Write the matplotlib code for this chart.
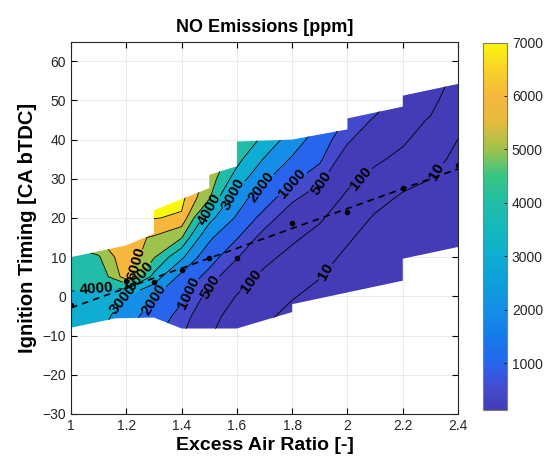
import numpy as np
import matplotlib
matplotlib.use("Agg")
import matplotlib.pyplot as plt
from matplotlib.colors import LinearSegmentedColormap, Normalize
from matplotlib.cm import ScalarMappable
from matplotlib.patches import Polygon

plt.rcParams['font.family'] = ['Liberation Sans', 'DejaVu Sans']

# measurement grid: excess air ratio (columns) x ignition timing (rows)
lam = [1.0, 1.1, 1.2, 1.3, 1.4, 1.5, 1.6, 1.7, 1.8, 1.9, 2.0, 2.1, 2.2, 2.3, 2.4]
ign = [-10, -5, 0, 5, 10, 15, 20, 25, 30, 35, 40, 45, 50, 55]

# NO [ppm], one list per lambda column, bottom to top
no_ppm = [
    [3200, 3500, 3900, 4300, 4800, 5200, 5500, 5800, 6000, 6200, 6400, 6600, 6800, 7000],
    [3100, 3450, 3800, 4300, 4900, 6000, 6300, 6500, 6700, 6800, 6900, 7000, 7000, 7000],
    [2130, 2510, 2950, 6600, 6950, 6300, 6500, 6700, 6900, 7000, 7000, 7000, 7000, 7000],
    [1180, 1560, 2100, 3720, 5090, 5900, 7050, 7400, 7600, 7700, 7800, 7800, 7800, 7800],
    [540, 785, 1160, 1760, 3240, 5070, 6850, 7300, 7500, 7600, 7700, 7700, 7700, 7700],
    [125, 217, 379, 771, 1415, 2230, 3370, 5100, 5650, 6100, 6400, 6600, 6800, 7000],
    [16, 39, 92, 224, 536, 1060, 1890, 2510, 3560, 4340, 4800, 5200, 5500, 5800],
    [7.4, 15.6, 33, 69, 153, 357, 759, 1430, 2245, 2925, 3795, 4300, 4700, 5000],
    [2.3, 5.2, 11.8, 26.8, 61, 134, 279, 588, 1180, 1905, 2550, 3340, 3900, 4300],
    [0.9, 2.1, 4.8, 10.9, 24.7, 56, 127, 285, 630, 1135, 1555, 2140, 2600, 3000],
    [0.5, 0.6, 1.2, 2.7, 6.1, 13.9, 31.6, 72, 152, 306, 574, 912, 1260, 1600],
    [0.4, 0.5, 0.6, 0.7, 1.6, 3.5, 7.9, 20.8, 59, 135, 244, 444, 805, 1100],
    [0.3, 0.4, 0.5, 0.8, 1.2, 1.45, 3.2, 7.2, 20, 63, 131, 204, 320, 500],
    [0.3, 0.35, 0.4, 0.5, 0.6, 1.0, 2.0, 4.5, 10.2, 20.5, 42, 87, 174, 347],
    [0.2, 0.25, 0.3, 0.4, 0.6, 0.9, 1.4, 2.2, 3.5, 6.0, 9.8, 16.9, 28.5, 48],
]

# outline of the measured operating range
top_lam = [1.0, 1.2, 1.3, 1.3, 1.5, 1.5, 1.6, 1.6, 1.8, 2.0, 2.0, 2.2, 2.2, 2.4]
top_ign = [10, 13, 16, 22, 27.6, 31, 33.2, 39.5, 40, 42.6, 45.4, 48.4, 51.2, 54.2]
bot_lam = [2.4, 2.2, 2.2, 1.8, 1.8, 1.6, 1.4, 1.3, 1.16, 1.0]
bot_ign = [12.6, 9.6, 4.0, -2.0, -4.0, -8.2, -8.2, -5.4, -5.6, -8.0]

# MBT points
mbt_lam = [1.0, 1.2, 1.3, 1.4, 1.5, 1.6, 1.8, 2.0, 2.2, 2.4]
mbt_ign = [-2.2, 4.0, 3.6, 6.6, 9.8, 9.8, 18.6, 21.5, 27.6, 33.5]

levels = [10, 100, 500, 1000, 2000, 3000, 4000, 5000, 6000, 7000]
label_pos = [(1.225, 8.5), (1.26, 5.0), (1.09, 2.5), (1.18, -0.5), (1.30, -0.8),
             (1.424, 1.0), (1.50, 2.5), (1.645, 4.0), (1.925, 6.2), (1.51, 22.0),
             (1.57, 26.5), (1.696, 27.6), (1.804, 28.5), (1.907, 28.9),
             (2.046, 30.2), (2.34, 31.5)]

parula = LinearSegmentedColormap.from_list('parula', [
    (0.000, (0.265, 0.230, 0.715)), (0.055, (0.270, 0.290, 0.800)),
    (0.128, (0.150, 0.400, 0.930)), (0.200, (0.080, 0.480, 0.920)),
    (0.273, (0.080, 0.560, 0.900)), (0.346, (0.050, 0.620, 0.860)),
    (0.419, (0.060, 0.680, 0.820)), (0.491, (0.080, 0.720, 0.740)),
    (0.564, (0.130, 0.740, 0.660)), (0.637, (0.220, 0.770, 0.520)),
    (0.709, (0.620, 0.760, 0.300)), (0.782, (0.900, 0.730, 0.240)),
    (0.855, (0.960, 0.720, 0.240)), (0.927, (0.980, 0.820, 0.160)),
    (1.000, (0.980, 0.970, 0.060))])

fig = plt.figure(figsize=(5.44, 4.62), dpi=100)
ax = fig.add_axes([0.1305, 0.104, 0.7115, 0.806])
cax = fig.add_axes([0.887, 0.112, 0.045, 0.796])

X, Y = np.meshgrid(lam, ign)
LZ = np.log10(np.array(no_ppm).T)
norm = Normalize(vmin=120, vmax=7000)
band_colors = [parula(norm(v)) for v in [0] + levels]
bounds = [-3] + list(np.log10(levels)) + [5]

region = Polygon(np.column_stack([top_lam + bot_lam, top_ign + bot_ign]),
                 closed=True, transform=ax.transData)

cf = ax.contourf(X, Y, LZ, levels=bounds, colors=band_colors)
cl = ax.contour(X, Y, LZ, levels=np.log10(levels), colors='k', linewidths=0.6)
cf.set_clip_path(region)
cl.set_clip_path(region)
with plt.rc_context({'font.weight': 'bold'}):
    ax.clabel(cl, manual=label_pos, inline=True, fontsize=11,
              fmt=lambda v: f"{10 ** v:.0f}")

# linear fit through MBT points
coef = np.polyfit(mbt_lam, mbt_ign, 1)
xs = np.array([1.0, 2.4])
ax.plot(xs, np.polyval(coef, xs), color='k', lw=1.2, dashes=(4, 3))
ax.plot(mbt_lam, mbt_ign, 'o', color='k', ms=3)

ax.set_xlim(1, 2.4)
ax.set_ylim(-30, 65)
ax.set_xticks([1, 1.2, 1.4, 1.6, 1.8, 2, 2.2, 2.4])
ax.set_xticklabels(['1', '1.2', '1.4', '1.6', '1.8', '2', '2.2', '2.4'])
ax.set_yticks(range(-30, 61, 10))
ax.tick_params(direction='in', top=True, right=True, length=4, width=0.8,
               labelsize=10, labelcolor='#262626')
ax.grid(True, color='#e8e8e8', lw=0.6)
ax.set_axisbelow(True)
for s in ax.spines.values():
    s.set_color('#262626')
ax.set_title('NO Emissions [ppm]', fontsize=13, fontweight='bold', pad=7)
ax.set_xlabel('Excess Air Ratio [-]', fontsize=14, fontweight='bold', labelpad=3)
ax.set_ylabel('Ignition Timing [CA bTDC]', fontsize=14.5, fontweight='bold',
              labelpad=4)

cb = fig.colorbar(ScalarMappable(norm=norm, cmap=parula), cax=cax,
                  ticks=[1000, 2000, 3000, 4000, 5000, 6000, 7000])
cb.outline.set_edgecolor('#7f7f7f')
cax.tick_params(direction='in', length=2.5, width=0.6, labelsize=10,
                labelcolor='#262626')

fig.savefig('out.png', dpi=100)
